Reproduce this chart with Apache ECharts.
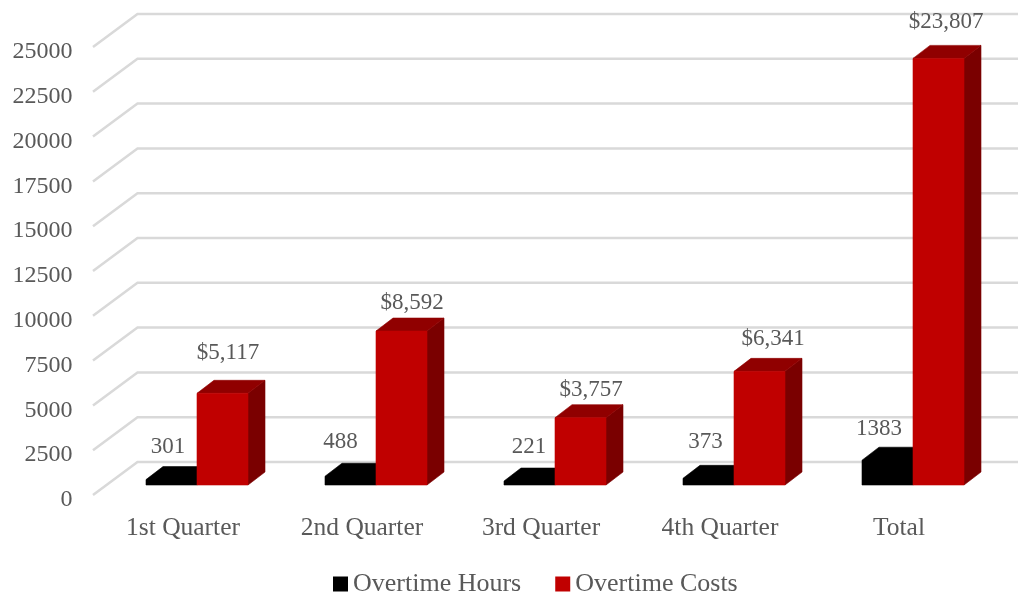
<!DOCTYPE html>
<html><head><meta charset="utf-8">
<style>html,body{margin:0;padding:0;background:#fff}#c{width:1018px;height:596px}</style>
<script src="https://cdn.jsdelivr.net/npm/echarts@6/dist/echarts.min.js"></script>
</head><body><div id="c"></div>
<script>
const categories = ['1st Quarter','2nd Quarter','3rd Quarter','4th Quarter','Total'];
const overtimeHours = [301,488,221,373,1383];
const overtimeCosts = [5117,8592,3757,6341,23807];
const valueTicks = [0,2500,5000,7500,10000,12500,15000,17500,20000,22500,25000];
// hand-placed data label offsets (from the top-centre of each bar's front face)
const hoursLabelNudge = [[-3.5,-33],[-10,-34],[-0.5,-34],[-3,-36],[-8.5,-31]];
const costsLabelNudge = [[5.5,-40],[10.5,-28],[10.5,-28],[13.5,-32],[7.5,-36]];

const FONT = '"Liberation Serif", serif';
const TXT = '#595959';
const DEPTH_X = 17, DEPTH_Y = 13, BAR_FRAC = 51/179;

function barRender(side, colors, nudges, fmt){
  return function(params, api){
    const i = api.value(0), v = api.value(1);
    const top = api.coord([i, v]), base = api.coord([i, 0]);
    const w = api.size([1,0])[0]*BAR_FRAC;
    const x0 = side < 0 ? top[0]-w : top[0], x1 = x0+w;
    const yt = top[1], yb = base[1];
    const poly = (pts, fill) => ({type:'polygon', shape:{points:pts}, style:{fill:fill, stroke:fill, lineWidth:0.6}, silent:true});
    const n = nudges[params.dataIndex];
    const label = {type:'text', style:{text:fmt(v), x:(x0+x1)/2+n[0], y:yt+n[1], align:'center', verticalAlign:'middle',
        font:'23px '+FONT, fill:TXT}};
    const flat = colors[0] === colors[1] && colors[1] === colors[2];
    const faces = flat
      ? [poly([[x0,yb],[x0,yt],[x0+DEPTH_X,yt-DEPTH_Y],[x1+DEPTH_X,yt-DEPTH_Y],[x1+DEPTH_X,yb-DEPTH_Y],[x1,yb]], colors[0])]
      : [poly([[x1,yb],[x1+DEPTH_X,yb-DEPTH_Y],[x1+DEPTH_X,yt-DEPTH_Y],[x1,yt]], colors[2]),
         poly([[x0,yt],[x0+DEPTH_X,yt-DEPTH_Y],[x1+DEPTH_X,yt-DEPTH_Y],[x1,yt]], colors[1]),
         poly([[x0,yt],[x1,yt],[x1,yb],[x0,yb]], colors[0])];
    return {type:'group', children:faces.concat([label])};
  };
}

const option = {
  animation:false,
  backgroundColor:'#fff',
  textStyle:{fontFamily:FONT},
  grid:{left:107.5, right:15.5, top:37, bottom:111, containLabel:false},
  legend:{
    left:333, top:571, padding:0, itemWidth:15, itemHeight:15, itemGap:34, icon:'rect',
    textStyle:{fontFamily:FONT, fontSize:26, color:TXT},
    data:['Overtime Hours','Overtime Costs']
  },
  xAxis:{type:'category', data:categories, axisLine:{show:false}, axisTick:{show:false},
    axisLabel:{fontFamily:FONT, fontSize:25.5, color:TXT, margin:30, padding:[0,28,0,0], interval:0}},
  yAxis:{type:'value', min:0, max:25000, interval:2500, splitLine:{show:false}, axisLine:{show:false}, axisTick:{show:false},
    axisLabel:{fontFamily:FONT, fontSize:24, lineHeight:30, color:TXT, margin:35, verticalAlign:'top', formatter:v=>String(v)}},
  series:[
    {type:'custom', name:'grid', silent:true, z:1, data:valueTicks.map(v=>[0,v]), encode:{x:0,y:1}, legendHoverLink:false,
     renderItem(params, api){
       const cs = params.coordSys;
       const y = api.coord([0, api.value(1)])[1];
       return {type:'polyline', shape:{points:[[cs.x-14.5,y+10],[cs.x+30,y-23],[cs.x+cs.width+15.5,y-23]]},
         style:{stroke:'#D9D9D9', lineWidth:2.5, fill:'none'}};
     }},
    {type:'custom', name:'Overtime Hours', z:2, itemStyle:{color:'#000000'},
     data:overtimeHours.map((v,i)=>[i,v]), encode:{x:0,y:1},
     renderItem:barRender(-1,['#000000','#000000','#000000'],hoursLabelNudge,v=>String(v))},
    {type:'custom', name:'Overtime Costs', z:3, itemStyle:{color:'#C00000'},
     data:overtimeCosts.map((v,i)=>[i,v]), encode:{x:0,y:1},
     renderItem:barRender(1,['#C00000','#900000','#7A0000'],costsLabelNudge,v=>'$'+v.toLocaleString('en-US'))}
  ]
};
echarts.init(document.getElementById('c')).setOption(option);
</script></body></html>
